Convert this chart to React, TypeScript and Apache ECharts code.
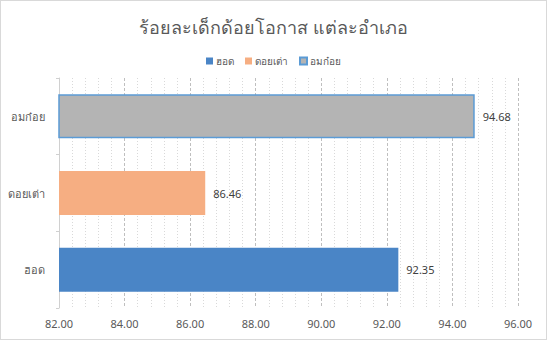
import React, { useEffect, useRef } from "react";
import * as echarts from "echarts";

const categories = ["ฮอด", "ดอยเต่า", "อมก๋อย"];
const values = [92.35, 86.46, 94.68];
const colors = ["#4A85C6", "#F6AE82", "#B4B4B4"];
const xTicks = { min: 82, max: 96, interval: 2 };
const titleText = "ร้อยละเด็กด้อยโอกาส แต่ละอำเภอ";

export default function App() {
  const ref = useRef<HTMLDivElement>(null);
  useEffect(() => {
    const chart = echarts.init(ref.current!, undefined, { renderer: "svg" });
    const font = "'Noto Sans', sans-serif";
    const series = categories.map((name, i) => ({
      name,
      type: "bar",
      stack: "all",
      barWidth: 44,
      data: categories.map((_, j) => (j === i ? values[i] : "-")),
      itemStyle: {
        color: colors[i],
        borderColor: i === 2 ? "#5B9BD5" : colors[i],
        borderWidth: i === 2 ? 1.5 : 0,
      },
      label: {
        show: true,
        position: "right",
        distance: 8,
        color: "#404040",
        fontSize: 11,
        fontFamily: font,
        formatter: (p: any) => p.value.toFixed(2),
      },
    }));
    chart.setOption({
      animation: false,
      backgroundColor: "#fff",
      title: {
        text: titleText,
        left: "center",
        top: 12,
        textStyle: { fontSize: 18, fontWeight: "normal", color: "#595959", fontFamily: font },
      },
      legend: {
        top: 50,
        left: "center",
        itemWidth: 7,
        itemHeight: 7,
        itemGap: 11,
        icon: "rect",
        textStyle: { fontSize: 10, color: "#595959", fontFamily: font, padding: [0, 0, 0, -2] },
        data: categories,
      },
      grid: { left: 58, right: 28, top: 77, bottom: 31, containLabel: false },
      xAxis: {
        type: "value",
        min: xTicks.min,
        max: xTicks.max,
        interval: xTicks.interval,
        axisLine: { show: false },
        axisTick: { show: false },
        axisLabel: {
          color: "#595959",
          fontSize: 11,
          fontFamily: font,
          margin: 10,
          formatter: (v: number) => v.toFixed(2),
        },
        splitLine: { show: true, lineStyle: { color: "#BFBFBF", type: [3, 2], width: 1 } },
        minorTick: { show: false, splitNumber: 5 },
        minorSplitLine: { show: true, lineStyle: { color: "#D9D9D9", type: [1, 2], width: 1 } },
      },
      yAxis: {
        type: "category",
        data: categories,
        axisLine: { show: true, lineStyle: { color: "#D0D0D0" } },
        axisTick: { show: true, length: 3, lineStyle: { color: "#D0D0D0" } },
        axisLabel: { color: "#595959", fontSize: 11, fontFamily: font, margin: 14 },
      },
      series,
    });
    return () => chart.dispose();
  }, []);
  return (
    <div
      style={{
        position: "absolute",
        left: 0,
        top: 0,
        width: 545,
        height: 338,
        border: "1px solid #D9D9D9",
        background: "#fff",
      }}
    >
      <div ref={ref} style={{ width: 545, height: 338 }} />
    </div>
  );
}
